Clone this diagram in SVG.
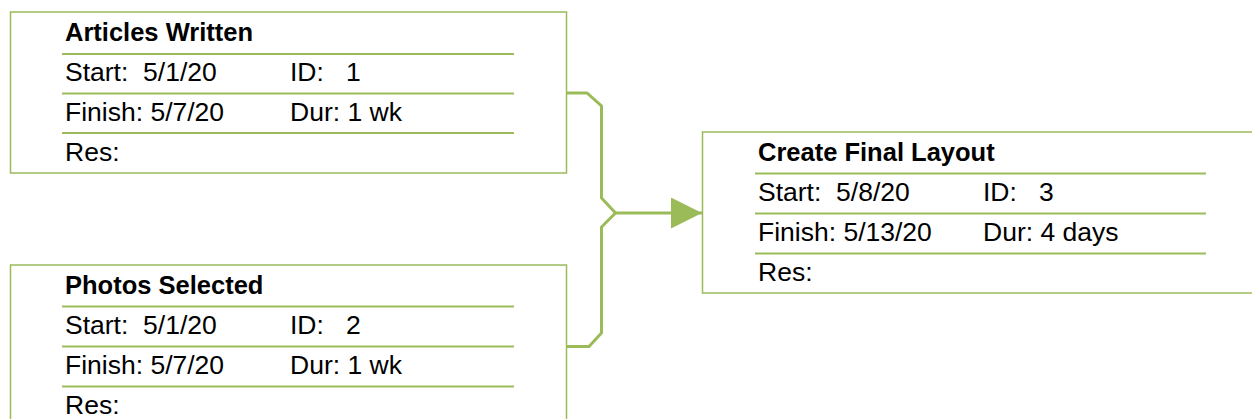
<svg xmlns="http://www.w3.org/2000/svg" width="1252" height="419" viewBox="0 0 1252 419">
<style>
.box{fill:#fff;stroke:#9BBB59;stroke-width:1.5}
.sep{stroke:#9BBB59;stroke-width:2}
.conn{fill:none;stroke:#9BBB59;stroke-width:3;stroke-linejoin:miter}
text{font-family:"Liberation Sans",Arial,sans-serif;font-size:26.5px;fill:#000;white-space:pre}
.t{font-weight:bold;font-size:25.5px}
</style>
<defs>
<marker id="arr" viewBox="0 0 10 10" refX="10" refY="5" markerUnits="userSpaceOnUse" markerWidth="31" markerHeight="31" orient="auto">
<path d="M0,0 L10,5 L0,10 Z" fill="#9BBB59"/>
</marker>
</defs>
<g id="connectors">
<path class="conn" d="M566,93 H587 L601.5,106 V198 L615.5,213 L601.5,227 V333 L589,346.5 H566"/>
<path class="conn" d="M615.5,213 H702" marker-end="url(#arr)"/>
</g>
<g id="node1">
<rect class="box" x="10.5" y="12" width="556" height="161"/>
<line class="sep" x1="62" y1="54" x2="514" y2="54"/>
<line class="sep" x1="62" y1="93.5" x2="514" y2="93.5"/>
<line class="sep" x1="62" y1="133" x2="514" y2="133"/>
<text class="t" x="65" y="41">Articles Written</text>
<text x="65" y="81">Start:  5/1/20</text>
<text x="290" y="81">ID:   1</text>
<text x="65" y="121">Finish: 5/7/20</text>
<text x="290" y="121">Dur: 1 wk</text>
<text x="65" y="161">Res:</text>
</g>
<g id="node2">
<rect class="box" x="10.5" y="265" width="556" height="170"/>
<line class="sep" x1="62" y1="306.5" x2="514" y2="306.5"/>
<line class="sep" x1="62" y1="346.5" x2="514" y2="346.5"/>
<line class="sep" x1="62" y1="386.5" x2="514" y2="386.5"/>
<text class="t" x="65" y="294">Photos Selected</text>
<text x="65" y="334">Start:  5/1/20</text>
<text x="290" y="334">ID:   2</text>
<text x="65" y="374">Finish: 5/7/20</text>
<text x="290" y="374">Dur: 1 wk</text>
<text x="65" y="414">Res:</text>
</g>
<g id="node3">
<rect class="box" x="702.5" y="132" width="570" height="161"/>
<line class="sep" x1="755" y1="173.5" x2="1206" y2="173.5"/>
<line class="sep" x1="755" y1="213.5" x2="1206" y2="213.5"/>
<line class="sep" x1="755" y1="253.5" x2="1206" y2="253.5"/>
<text class="t" x="758" y="161">Create Final Layout</text>
<text x="758" y="201">Start:  5/8/20</text>
<text x="983" y="201">ID:   3</text>
<text x="758" y="241">Finish: 5/13/20</text>
<text x="983" y="241">Dur: 4 days</text>
<text x="758" y="281">Res:</text>
</g>
</svg>
